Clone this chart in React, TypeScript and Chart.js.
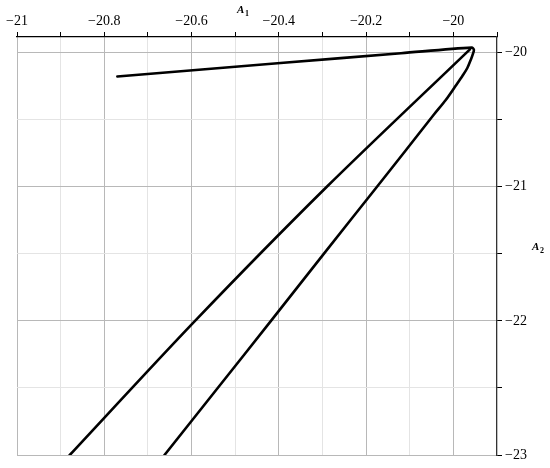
import React, { useEffect, useRef } from "react";
import { Chart, registerables } from "chart.js";

Chart.register(...registerables);

// Path 1: upper branch from its start to the tip, then the inner (curved) branch down
const innerX = [-20.77, -20.396, -20.12, -19.958, -19.953, -19.955, -19.96, -19.968, -19.979, -19.993, -20.017, -20.045, -20.108, -20.175, -20.297, -20.418, -20.54, -20.662, -20.692];
const innerY = [-20.177, -20.077, -20.004, -19.962, -19.978, -20.007, -20.052, -20.114, -20.172, -20.239, -20.351, -20.463, -20.724, -21.0, -21.5, -22.0, -22.5, -23.0, -23.12];

// Path 2: outer (straighter) branch from the tip down
const outerX = [-19.962, -20.29, -20.592, -20.879, -20.907];
const outerY = [-19.975, -21.0, -22.0, -23.0, -23.1];

const xMin = -21;
const xMax = -19.9;
const yMin = -23;
const yMax = -19.883;
const xStep = 0.1;
const yStep = 0.5;

const FONT = "'Liberation Serif', 'DejaVu Serif', serif";

const near = (v: number, m: number) => Math.abs(Math.round(v / m) * m - v) < 1e-6;
const fmt = (v: number) => {
  const s = String(Number(v.toFixed(1)));
  return s.replace("-", "\u2212");
};

const titlePlugin = {
  id: "axisTitles",
  afterDraw(chart: any) {
    const c = chart.ctx;
    c.save();
    c.fillStyle = "#000";
    c.textBaseline = "alphabetic";
    c.textAlign = "left";
    c.font = `bold italic 11px ${FONT}`;
    c.fillText("A", 237, 13);
    c.font = `bold 8px ${FONT}`;
    c.fillText("1", 245, 16);
    c.font = `bold italic 11px ${FONT}`;
    c.fillText("A", 532, 250);
    c.font = `bold 8px ${FONT}`;
    c.fillText("2", 540, 253);
    c.restore();
  },
};

export default function App() {
  const ref = useRef<HTMLCanvasElement | null>(null);
  useEffect(() => {
    document.body.style.margin = "0";
    const canvas = ref.current;
    if (!canvas) return;
    const toPts = (xs: number[], ys: number[]) => xs.map((x, i) => ({ x, y: ys[i] }));
    const common = {
      showLine: true,
      borderColor: "#000",
      borderWidth: 2.6,
      pointRadius: 0,
      tension: 0.3,
      borderJoinStyle: "round",
      borderCapStyle: "round",
    };
    const chart = new Chart(canvas, {
      type: "scatter",
      data: {
        datasets: [
          { ...common, data: toPts(innerX, innerY) },
          { ...common, data: toPts(outerX, outerY) },
        ],
      },
      options: {
        animation: false,
        responsive: false,
        devicePixelRatio: 1,
        layout: { padding: { left: 17, right: 0, top: 0, bottom: 13 } },
        plugins: { legend: { display: false }, tooltip: { enabled: false } },
        scales: {
          x: {
            type: "linear",
            position: "top",
            min: xMin,
            max: xMax,
            afterFit: (s: any) => {
              s.height = 37;
            },
            border: { color: "#000", width: 1.2 },
            grid: {
              color: (ctx: any) => (near(ctx.tick.value, 0.2) ? "#b8b8b8" : "#e4e4e4"),
              tickColor: "#000",
              tickLength: 5,
              lineWidth: 1,
            },
            ticks: {
              stepSize: xStep,
              includeBounds: false,
              autoSkip: false,
              maxRotation: 0,
              padding: 2,
              color: "#000",
              font: { family: FONT, size: 14 },
              callback: (v: any) => (near(Number(v), 0.2) ? fmt(Number(v)) : ""),
            },
          },
          y: {
            type: "linear",
            position: "right",
            min: yMin,
            max: yMax,
            afterFit: (s: any) => {
              s.width = 53;
            },
            border: { color: "#333", width: 1.2 },
            grid: {
              color: (ctx: any) => (near(ctx.tick.value, 1) ? "#b8b8b8" : "#e4e4e4"),
              tickColor: "#000",
              tickLength: 5,
              lineWidth: 1,
            },
            ticks: {
              stepSize: yStep,
              includeBounds: false,
              autoSkip: false,
              padding: 3,
              color: "#000",
              font: { family: FONT, size: 14 },
              callback: (v: any) => (near(Number(v), 1) ? fmt(Number(v)) : ""),
            },
          },
        },
      },
      plugins: [titlePlugin],
    } as any);
    return () => chart.destroy();
  }, []);
  return (
    <div style={{ width: 550, height: 468 }}>
      <canvas ref={ref} width={550} height={468} style={{ width: 550, height: 468, display: "block" }} />
    </div>
  );
}
